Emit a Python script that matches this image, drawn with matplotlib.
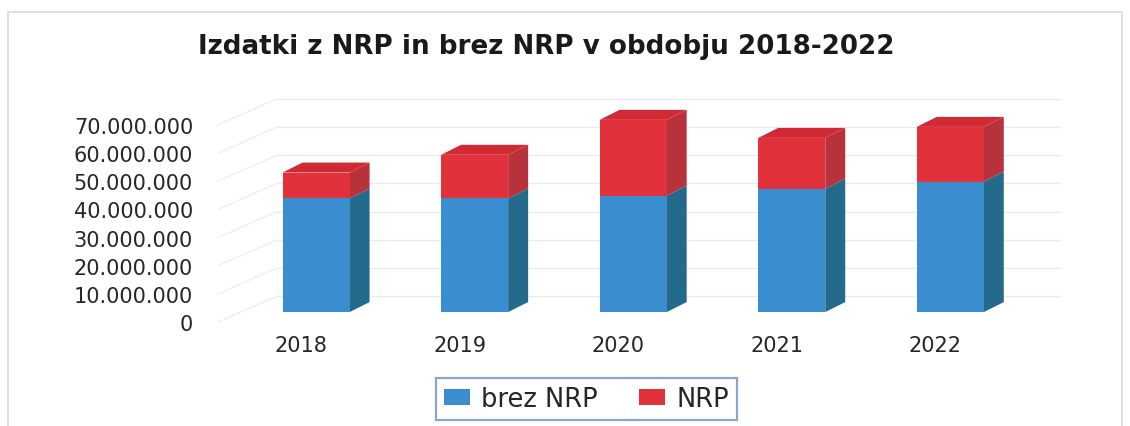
import matplotlib.pyplot as plt
from matplotlib.patches import Polygon, Patch, Rectangle
from matplotlib.transforms import ScaledTranslation

# data
years = ['2018', '2019', '2020', '2021', '2022']
brez_nrp = [40.3e6, 40.3e6, 41.3e6, 43.8e6, 46.3e6]
nrp = [9.2e6, 15.5e6, 26.9e6, 18.0e6, 19.4e6]
yticks = [0, 10e6, 20e6, 30e6, 40e6, 50e6, 60e6, 70e6]
ytick_labels = ['0', '10.000.000', '20.000.000', '30.000.000', '40.000.000',
                '50.000.000', '60.000.000', '70.000.000']

blue_front = '#3a8dcf'
blue_side = '#236a8c'
red_front = '#e1313b'
red_side = '#b8323c'
red_top = '#d02b35'

fig = plt.figure(figsize=(11.3, 4.27), dpi=100)
ax = fig.add_axes([0.177, 0.227, 0.779, 0.585])

# light frame of the chart area
fig.patches.append(Rectangle((0.007, -0.05), 0.986, 1.02, transform=fig.transFigure,
                             fill=False, edgecolor='#dadada', linewidth=1.2))

x = list(range(len(years)))
w = 0.423
dx = 0.126      # depth of the bars (x units)
dy = 3.55e6     # depth of the bars (value units)
wall = 5.67e6   # back wall shift

# back wall gridlines and floor diagonals
for v in yticks:
    ax.plot([-0.246, 4.69], [v + wall, v + wall], color='#ebebeb', lw=1.0, zorder=0)
    ax.plot([-0.618, -0.246], [v - dy, v + wall], color='#f0f0f0', lw=1.0, zorder=0)

ax.bar(x, brez_nrp, width=w, color=blue_front, zorder=3, label='brez NRP')
ax.bar(x, nrp, width=w, bottom=brez_nrp, color=red_front, zorder=3, label='NRP')

for i in x:
    x1 = i + w / 2
    x0 = i - w / 2
    b = brez_nrp[i]
    t = brez_nrp[i] + nrp[i]
    ax.add_patch(Polygon([(x1, 0), (x1 + dx, dy), (x1 + dx, b + dy), (x1, b)],
                         closed=True, facecolor=blue_side, edgecolor='none', zorder=2))
    ax.add_patch(Polygon([(x1, b), (x1 + dx, b + dy), (x1 + dx, t + dy), (x1, t)],
                         closed=True, facecolor=red_side, edgecolor='none', zorder=2))
    ax.add_patch(Polygon([(x0, t), (x0 + dx, t + dy), (x1 + dx, t + dy), (x1, t)],
                         closed=True, facecolor=red_top, edgecolor='none', zorder=2))

ax.set_xlim(-0.732, 4.82)
ax.set_ylim(-6.03e6, 82.6e6)
ax.set_yticks(yticks)
ax.set_yticklabels(ytick_labels, fontsize=15, color='#262626')
ax.set_xticks(x)
ax.set_xticklabels(years, fontsize=15, color='#262626')
ax.tick_params(length=0)
ax.tick_params(axis='y', pad=5)
ax.tick_params(axis='x', pad=4)
for lab in ax.get_yticklabels():
    lab.set_transform(lab.get_transform() + ScaledTranslation(0, -0.10, fig.dpi_scale_trans))
for lab in ax.get_xticklabels():
    lab.set_transform(lab.get_transform() + ScaledTranslation(-0.15, 0, fig.dpi_scale_trans))
for s in ax.spines.values():
    s.set_visible(False)

fig.text(0.483, 0.89, 'Izdatki z NRP in brez NRP v obdobju 2018-2022',
         ha='center', va='center', fontsize=18.8, fontweight='bold', color='#1a1a1a')

handles = [Patch(facecolor=blue_front, label='brez NRP'), Patch(facecolor=red_front, label='NRP')]
leg = fig.legend(handles=handles, loc='center', bbox_to_anchor=(0.519, 0.063), ncol=2,
                 fontsize=18.5, frameon=True, fancybox=False, handlelength=1.0,
                 handleheight=0.55, handletextpad=0.45, columnspacing=1.6,
                 borderpad=0.3, borderaxespad=0)
leg.get_frame().set_edgecolor('#6f8fbd')
leg.get_frame().set_linewidth(1.6)
for txt in leg.get_texts():
    txt.set_color('#262626')

plt.savefig('out.png', dpi=100)
plt.close()
